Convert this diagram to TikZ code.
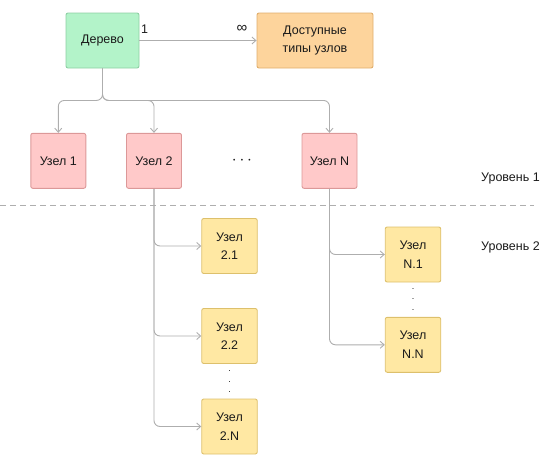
\documentclass[tikz,border=0pt]{standalone}
\usepackage{fontspec}
\setmainfont{Liberation Sans}
\usetikzlibrary{arrows.meta}
\definecolor{gfill}{HTML}{B3F3C9}
\definecolor{gdraw}{HTML}{8ED0A4}
\definecolor{ofill}{HTML}{FDD49C}
\definecolor{odraw}{HTML}{E0AE6C}
\definecolor{pfill}{HTML}{FFC9C9}
\definecolor{pdraw}{HTML}{DC9898}
\definecolor{yfill}{HTML}{FFE8A3}
\definecolor{ydraw}{HTML}{DDC06C}
\definecolor{lgray}{HTML}{AEAEAE}
\definecolor{txt}{HTML}{1A1A1A}
\tikzset{
  box/.style={draw, line width=0.9pt, rounded corners=2pt, align=center, inner sep=0pt,
    font=\fontsize{12.5}{18.5}\selectfont, text=txt},
  gbox/.style={box, fill=gfill, draw=gdraw, minimum width=73pt, minimum height=55pt},
  obox/.style={box, fill=ofill, draw=odraw, minimum width=116pt, minimum height=55pt},
  pbox/.style={box, fill=pfill, draw=pdraw, minimum width=55pt, minimum height=55pt},
  ybox/.style={box, fill=yfill, draw=ydraw, minimum width=55.5pt, minimum height=55pt},
  conn/.style={draw=lgray, line width=0.9pt, rounded corners=6pt, -{Straight Barb[length=4pt,width=7pt]}},
  lbl/.style={font=\fontsize{12.5}{15}\selectfont, text=txt, inner sep=0pt},
  vdots/.style={font=\fontsize{9}{10.5}\selectfont, text=txt, align=center, inner sep=0pt}
}
\begin{document}
\begin{tikzpicture}[x=1pt,y=-1pt]
\useasboundingbox (0,0) rectangle (550,466);
\node[gbox] (tree) at (102.5,40.5) {Дерево};
\node[obox] (avail) at (315,40.5) {Доступные\\типы узлов};
\node[pbox] (n1) at (58.3,160.8) {Узел 1};
\node[pbox] (n2) at (154,160.8) {Узел 2};
\node[pbox] (nN) at (329.5,160.8) {Узел N};
\node[lbl, font=\fontsize{17}{20}\selectfont] (dots) at (242,161) {$\cdots$};
\node[ybox] (n21) at (229.5,246) {Узел\\2.1};
\node[ybox] (n22) at (229.5,336) {Узел\\2.2};
\node[ybox] (n2N) at (229.5,426.5) {Узел\\2.N};
\node[ybox] (nN1) at (413,254.5) {Узел\\N.1};
\node[ybox] (nNN) at (413,344.8) {Узел\\N.N};
\node[vdots] (vd1) at (229.5,382) {.\\.\\.};
\node[vdots] (vd2) at (413,299.5) {.\\.\\.};
\node[lbl, anchor=west] (lev1) at (481,178.3) {Уровень 1};
\node[lbl, anchor=west] (lev2) at (481,247.3) {Уровень 2};
\node[lbl] (one) at (144.5,29) {1};
\node[lbl, font=\fontsize{15}{18}\selectfont] (inf) at (242,29) {∞};
\coordinate (dl) at (0,205.5);
\coordinate (dr) at (534,205.5);
\draw[lgray, line width=0.9pt, dash pattern=on 6pt off 4pt] (dl) -- (dr);
\draw[conn] (tree.east) -- (avail.west);
\draw[conn] (tree.south) -- ++(0,32) -| (n1.north);
\draw[conn] (tree.south) -- ++(0,32) -| (n2.north);
\draw[conn] (tree.south) -- ++(0,32) -| (nN.north);
\draw[conn] (n2.south) |- (n21.west);
\draw[conn] (n2.south) |- (n22.west);
\draw[conn] (n2.south) |- (n2N.west);
\draw[conn] (nN.south) |- (nN1.west);
\draw[conn] (nN.south) |- (nNN.west);
\end{tikzpicture}
\end{document}
